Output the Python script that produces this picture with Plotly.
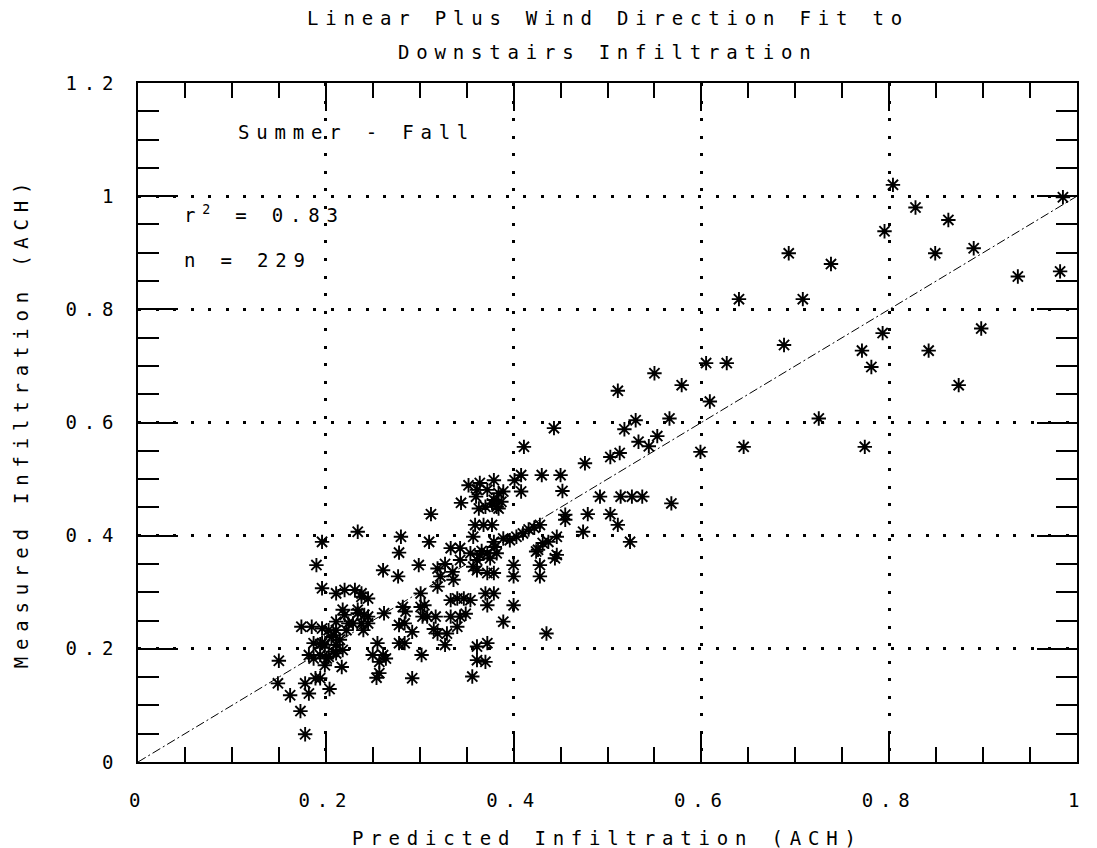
import plotly.graph_objects as go

# Predicted infiltration (ACH) -> x ; Measured infiltration (ACH) -> y
pred = [
    0.149, 0.150, 0.162, 0.173, 0.178, 0.178, 0.182, 0.194, 0.204, 0.189,
    0.174, 0.185, 0.196, 0.203, 0.187, 0.194, 0.199, 0.182, 0.187, 0.194,
    0.201, 0.208, 0.211, 0.215, 0.208, 0.217, 0.199, 0.211, 0.218, 0.206,
    0.211, 0.222, 0.229, 0.211, 0.224, 0.238, 0.245, 0.203, 0.196, 0.240,
    0.218, 0.234, 0.241, 0.220, 0.234, 0.211, 0.220, 0.231, 0.238, 0.245,
    0.238, 0.196, 0.190, 0.196, 0.234, 0.245,
    0.255, 0.261, 0.250, 0.257, 0.264, 0.257, 0.254, 0.278, 0.302, 0.292,
    0.262, 0.261, 0.277, 0.278, 0.280, 0.299, 0.310, 0.312, 0.282, 0.284,
    0.292, 0.301, 0.301, 0.303, 0.308, 0.284, 0.319, 0.322, 0.319, 0.319,
    0.329, 0.327, 0.285, 0.278, 0.305, 0.317, 0.315,
    0.333, 0.343, 0.354, 0.364, 0.372, 0.382, 0.375, 0.343, 0.361,
    0.400, 0.400, 0.428, 0.428, 0.424, 0.431, 0.361, 0.372, 0.379, 0.370,
    0.379, 0.372, 0.400, 0.389, 0.333, 0.340, 0.347, 0.354, 0.343, 0.340,
    0.361, 0.372, 0.361, 0.356, 0.370, 0.435, 0.335, 0.336, 0.357, 0.327,
    0.333, 0.349,
    0.359, 0.368, 0.377, 0.357, 0.366, 0.380, 0.379, 0.389, 0.396, 0.403,
    0.410, 0.416, 0.422, 0.428, 0.426, 0.437, 0.446, 0.446, 0.444,
    0.352, 0.361, 0.364, 0.379, 0.389, 0.360, 0.344, 0.370, 0.382, 0.379,
    0.363, 0.372, 0.384, 0.387, 0.377, 0.384,
    0.411, 0.408, 0.401, 0.430, 0.408, 0.443, 0.450, 0.452,
    0.476, 0.503, 0.513, 0.492, 0.514, 0.526, 0.537, 0.568, 0.455, 0.455,
    0.479, 0.503, 0.511, 0.474, 0.524,
    0.511, 0.550, 0.579, 0.609, 0.530, 0.518, 0.566, 0.553, 0.533, 0.544,
    0.599, 0.605, 0.627, 0.645, 0.725, 0.774, 0.781, 0.874,
    0.640, 0.708, 0.688, 0.771, 0.793, 0.842, 0.898, 0.693, 0.738, 0.795,
    0.804, 0.828, 0.863, 0.849, 0.890, 0.937, 0.982, 0.985,
]
meas = [
    0.139, 0.179, 0.118, 0.090, 0.049, 0.139, 0.121, 0.148, 0.129, 0.148,
    0.239, 0.239, 0.236, 0.233, 0.210, 0.208, 0.207, 0.189, 0.183, 0.189,
    0.183, 0.195, 0.207, 0.216, 0.224, 0.168, 0.171, 0.192, 0.198, 0.221,
    0.233, 0.233, 0.245, 0.248, 0.245, 0.245, 0.245, 0.186, 0.210, 0.233,
    0.269, 0.269, 0.260, 0.260, 0.263, 0.298, 0.304, 0.304, 0.292, 0.289,
    0.298, 0.307, 0.348, 0.389, 0.407, 0.257,
    0.210, 0.189, 0.189, 0.177, 0.183, 0.157, 0.149, 0.210, 0.189, 0.148,
    0.263, 0.339, 0.328, 0.370, 0.398, 0.348, 0.389, 0.438, 0.274, 0.245,
    0.230, 0.298, 0.274, 0.257, 0.257, 0.210, 0.342, 0.328, 0.310, 0.227,
    0.227, 0.207, 0.266, 0.242, 0.277, 0.257, 0.235,
    0.378, 0.378, 0.369, 0.366, 0.369, 0.369, 0.360, 0.357, 0.357,
    0.348, 0.328, 0.348, 0.328, 0.372, 0.387, 0.339, 0.334, 0.334, 0.298,
    0.298, 0.277, 0.277, 0.248, 0.286, 0.289, 0.289, 0.286, 0.257, 0.239,
    0.204, 0.210, 0.180, 0.151, 0.177, 0.227, 0.336, 0.322, 0.345, 0.350,
    0.257, 0.262,
    0.419, 0.419, 0.419, 0.398, 0.373, 0.380, 0.389, 0.395, 0.392, 0.398,
    0.404, 0.411, 0.414, 0.419, 0.375, 0.389, 0.398, 0.366, 0.360,
    0.489, 0.481, 0.493, 0.498, 0.478, 0.469, 0.458, 0.451, 0.451, 0.463,
    0.448, 0.481, 0.475, 0.460, 0.457, 0.448,
    0.557, 0.507, 0.498, 0.507, 0.478, 0.590, 0.507, 0.479,
    0.528, 0.539, 0.546, 0.469, 0.469, 0.469, 0.469, 0.457, 0.437, 0.428,
    0.438, 0.438, 0.419, 0.407, 0.389,
    0.656, 0.687, 0.666, 0.637, 0.604, 0.588, 0.607, 0.576, 0.566, 0.558,
    0.548, 0.705, 0.705, 0.557, 0.607, 0.557, 0.698, 0.666,
    0.818, 0.818, 0.737, 0.727, 0.758, 0.727, 0.766, 0.899, 0.880, 0.938,
    1.020, 0.980, 0.958, 0.899, 0.908, 0.858, 0.867, 0.998,
]

# 1:1 fit line
fit_x = [0.0, 1.0]
fit_y = [0.0, 1.0]

x_ticks = [0, 0.2, 0.4, 0.6, 0.8, 1.0]
x_labels = ["0", "0.2", "0.4", "0.6", "0.8", "1"]
y_ticks = [0, 0.2, 0.4, 0.6, 0.8, 1.0, 1.2]
y_labels = ["0", "0.2", "0.4", "0.6", "0.8", "1", "1.2"]

title_lines = ["Linear Plus Wind Direction Fit to", "Downstairs Infiltration"]
x_title = "Predicted Infiltration (ACH)"
y_title = "Measured Infiltration (ACH)"
season = "Summer - Fall"
r2_text = "r<sup>2</sup> = 0.83"
n_text = "n = 229"

FONT = "DejaVu Sans Mono"
FS = 19
LS = 6.8


def sp(s):
    return f'<span style="letter-spacing:{LS}px">{s}</span>'


fig = go.Figure()
fig.add_trace(go.Scatter(
    x=fit_x, y=fit_y, mode="lines",
    line=dict(color="black", width=1, dash="9px,3px,2px,3px"),
    hoverinfo="skip", showlegend=False,
))
fig.add_trace(go.Scatter(
    x=pred, y=meas, mode="markers",
    marker=dict(symbol="asterisk-open", size=12, color="black",
                line=dict(color="black", width=1.9)),
    showlegend=False,
))

axis_common = dict(
    showline=True, linecolor="black", linewidth=2, mirror="ticks",
    ticks="inside", tickcolor="black", tickwidth=2,
    showgrid=True, gridcolor="black", gridwidth=3, griddash="3px,14.5px",
    zeroline=False,
    tickfont=dict(family=FONT, size=FS, color="black"),
)

fig.update_xaxes(
    range=[0, 1], tickvals=x_ticks, ticktext=[sp(t) for t in x_labels],
    ticklen=28, ticklabelstandoff=20,
    minor=dict(ticks="inside", ticklen=15, tickwidth=2, tickcolor="black",
               dtick=0.05, showgrid=False),
    **axis_common,
)
fig.update_yaxes(
    range=[0, 1.2], tickvals=y_ticks, ticktext=[sp(t) for t in y_labels],
    ticklen=40, ticklabelstandoff=12,
    minor=dict(ticks="inside", ticklen=21, tickwidth=2, tickcolor="black",
               dtick=0.05, showgrid=False),
    **axis_common,
)

annos = [
    dict(text=sp(title_lines[0]), x=0.5, y=1.095, xref="paper", yref="paper"),
    dict(text=sp(title_lines[1]), x=0.5, y=1.045, xref="paper", yref="paper"),
    dict(text=sp(x_title), x=0.5, y=-0.112, xref="paper", yref="paper"),
    dict(text=sp(y_title), x=-0.125, y=0.5, xref="paper", yref="paper",
         textangle=-90),
    dict(text=sp(season), x=0.104, y=1.113, xref="x", yref="y", xanchor="left"),
    dict(text=sp(r2_text), x=0.047, y=0.969, xref="x", yref="y", xanchor="left"),
    dict(text=sp(n_text), x=0.047, y=0.887, xref="x", yref="y", xanchor="left"),
]
for a in annos:
    a.setdefault("xanchor", "center")
    a.update(yanchor="middle", showarrow=False,
             font=dict(family=FONT, size=FS, color="black"))
fig.update_layout(
    width=1097, height=848,
    margin=dict(l=138, r=11, t=83, b=86),
    paper_bgcolor="white", plot_bgcolor="white",
    annotations=annos, showlegend=False,
)

fig.write_html("out.html")
